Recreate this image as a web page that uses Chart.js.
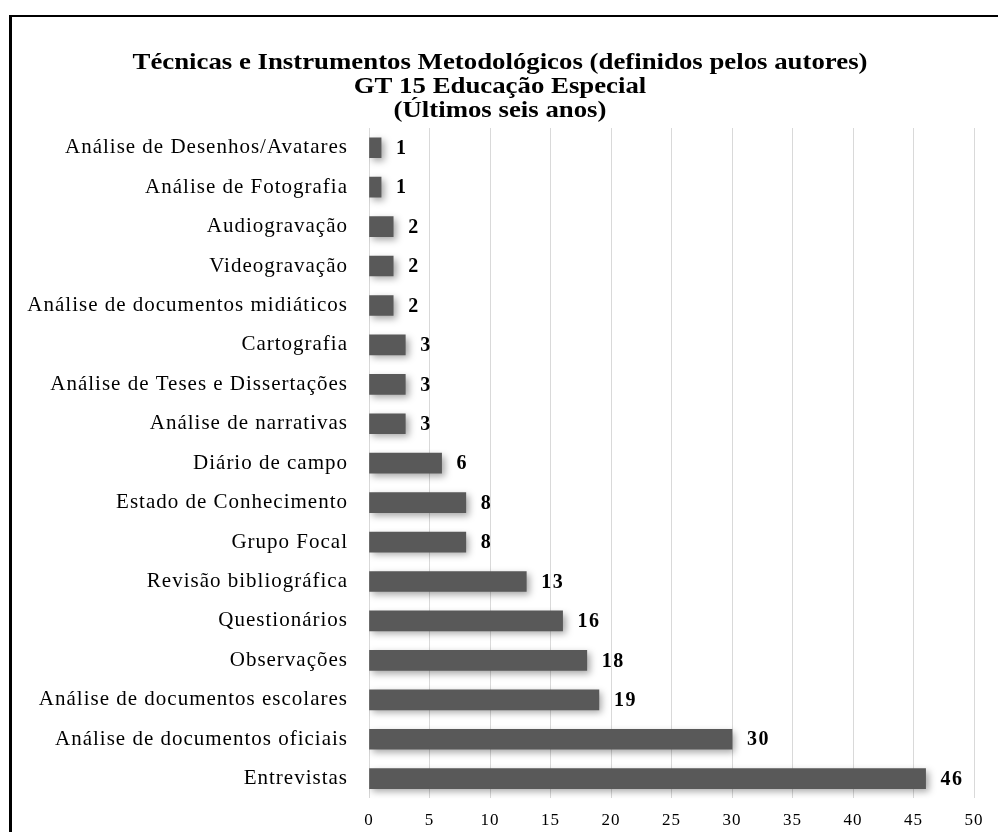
<!DOCTYPE html>
<html>
<head>
<meta charset="utf-8">
<script src="https://cdn.jsdelivr.net/npm/chart.js@4.4.1/dist/chart.umd.min.js"></script>
<style>
  html, body { margin: 0; padding: 0; background: #fff; overflow: hidden; }
  canvas { display: block; }
</style>
</head>
<body>
<canvas id="chart" width="998" height="832"></canvas>
<script>
// chart data
const categories = [
  'Análise de Desenhos/Avatares',
  'Análise de Fotografia',
  'Audiogravação',
  'Videogravação',
  'Análise de documentos midiáticos',
  'Cartografia',
  'Análise de Teses e Dissertações',
  'Análise de narrativas',
  'Diário de campo',
  'Estado de Conhecimento',
  'Grupo Focal',
  'Revisão bibliográfica',
  'Questionários',
  'Observações',
  'Análise de documentos escolares',
  'Análise de documentos oficiais',
  'Entrevistas'
];
const counts = [1, 1, 2, 2, 2, 3, 3, 3, 6, 8, 8, 13, 16, 18, 19, 30, 46];
const titleLines = [
  'Técnicas e Instrumentos Metodológicos (definidos pelos autores)',
  'GT 15 Educação Especial',
  '(Últimos seis anos)'
];

const serif = '"Liberation Serif", "Times New Roman", serif';

// white page and the open black frame (top and left edges only)
const pageFrame = {
  id: 'pageFrame',
  beforeDraw(chart) {
    const ctx = chart.ctx;
    ctx.save();
    ctx.fillStyle = '#fff';
    ctx.fillRect(0, 0, chart.width, chart.height);
    ctx.fillStyle = '#000';
    ctx.fillRect(9, 15, chart.width, 2);
    ctx.fillRect(9, 15, 3, chart.height);
    ctx.restore();
    // the original text is set with loose letter spacing
    ctx.letterSpacing = '1px';
  },
  afterDraw(chart) { chart.ctx.letterSpacing = '0px'; }
};

// soft shadow under the bars
const barShadow = {
  id: 'barShadow',
  beforeDatasetDraw(chart) {
    const ctx = chart.ctx;
    ctx.save();
    ctx.shadowColor = 'rgba(0,0,0,0.35)';
    ctx.shadowBlur = 7;
    ctx.shadowOffsetX = 3;
    ctx.shadowOffsetY = 3;
  },
  afterDatasetDraw(chart) {
    chart.ctx.restore();
  }
};

// value labels next to the bars
const valueLabels = {
  id: 'valueLabels',
  afterDatasetsDraw(chart) {
    const ctx = chart.ctx;
    const meta = chart.getDatasetMeta(0);
    ctx.save();
    ctx.letterSpacing = '1.5px';
    ctx.font = 'bold 20px ' + serif;
    ctx.fillStyle = '#000';
    ctx.textBaseline = 'middle';
    ctx.textAlign = 'left';
    meta.data.forEach((bar, i) => {
      ctx.fillText(String(counts[i]), bar.x + 15, bar.y + 1);
    });
    ctx.restore();
  }
};

// three line title above the plot, stretched a little like the original
const titleText = {
  id: 'titleText',
  afterDraw(chart) {
    const ctx = chart.ctx;
    ctx.save();
    ctx.letterSpacing = '0px';
    ctx.font = 'bold 23px ' + serif;
    ctx.fillStyle = '#000';
    ctx.textAlign = 'center';
    ctx.textBaseline = 'middle';
    const stretch = 735 / ctx.measureText(titleLines[0]).width;
    titleLines.forEach((line, i) => {
      ctx.save();
      ctx.translate(500, 63 + i * 24);
      ctx.scale(stretch, 1);
      ctx.fillText(line, 0, 0);
      ctx.restore();
    });
    ctx.restore();
  }
};

new Chart(document.getElementById('chart'), {
  type: 'bar',
  data: {
    labels: categories,
    datasets: [{
      data: counts,
      backgroundColor: '#595959',
      barThickness: 20
    }]
  },
  options: {
    indexAxis: 'y',
    responsive: false,
    animation: false,
    layout: { padding: { top: 128, right: 24, left: 0, bottom: 0 } },
    plugins: {
      legend: { display: false },
      tooltip: { enabled: false }
    },
    scales: {
      x: {
        min: 0,
        max: 50,
        ticks: {
          stepSize: 5,
          color: '#000',
          padding: 12,
          font: { family: serif, size: 17 }
        },
        grid: { color: '#d9d9d9', drawTicks: false },
        border: { display: false },
        afterFit(scale) { scale.height = 30; }
      },
      y: {
        ticks: {
          color: '#000',
          padding: 21,
          font: { family: serif, size: 21 }
        },
        grid: { display: false, drawTicks: false },
        border: { display: false },
        afterFit(scale) { scale.width = 369; }
      }
    }
  },
  plugins: [pageFrame, barShadow, valueLabels, titleText]
});
</script>
</body>
</html>
